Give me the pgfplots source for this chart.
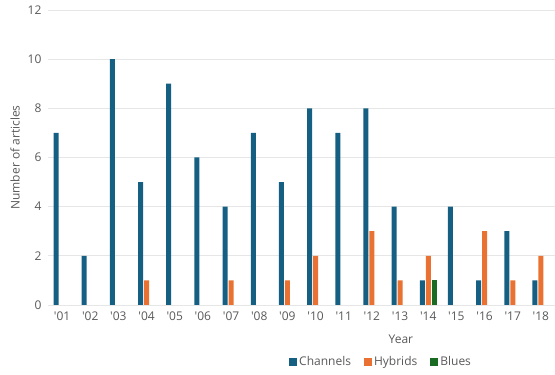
\documentclass[border=0pt]{standalone}
\usepackage{pgfplots}
\pgfplotsset{compat=1.18}
\usepackage{fontspec}
\setmainfont{Open Sans}
\definecolor{chan}{HTML}{156082}
\definecolor{hyb}{HTML}{E97132}
\definecolor{blu}{HTML}{196B24}
\definecolor{txt}{HTML}{595959}
\definecolor{grd}{HTML}{E6E6E6}
\begin{document}
\begin{tikzpicture}
\useasboundingbox (-48pt,-70pt) rectangle (507pt,305pt);
\begin{axis}[
  at={(0pt,0pt)}, anchor=south west,
  scale only axis, width=507pt, height=295pt,
  xmin=-0.5, xmax=17.5, ymin=0, ymax=12,
  ytick={0,2,...,12},
  xtick={0,...,17},
  xticklabels={\textquotesingle 01,\textquotesingle 02,\textquotesingle 03,\textquotesingle 04,\textquotesingle 05,\textquotesingle 06,\textquotesingle 07,\textquotesingle 08,\textquotesingle 09,\textquotesingle 10,\textquotesingle 11,\textquotesingle 12,\textquotesingle 13,\textquotesingle 14,\textquotesingle 15,\textquotesingle 16,\textquotesingle 17,\textquotesingle 18},
  axis line style={draw=none},
  axis x line*=bottom,
  axis y line*=left,
  major tick length=0pt,
  ymajorgrids, grid style={grd, line width=0.8pt},
  tick label style={font=\fontsize{12}{14}\selectfont, text=txt},
  /pgf/number format/assume math mode=true,
  ylabel={Number of articles},
  xlabel={Year},
  label style={font=\fontsize{12}{14}\selectfont, text=txt},
  ylabel style={at={(axis description cs:-0.065,0.5)}, anchor=center},
  xlabel style={at={(axis description cs:0.696,-0.115)}, anchor=center},
  yticklabel style={xshift=-3pt},
  xticklabel style={yshift=-3pt},
  ybar, bar width=5pt,
  legend columns=3,
  legend style={draw=none, fill=none, at={(axis description cs:0.657,-0.193)}, anchor=center,
    font=\fontsize{12}{14}\selectfont, text=txt, inner sep=0pt,
    /tikz/every odd column/.append style={column sep=0pt},
    /tikz/every even column/.append style={column sep=11pt}},
  legend image code/.code={\fill[#1] (0pt,-4pt) rectangle (8pt,4pt);},
]
\addplot[fill=chan, draw=none, bar shift=-6pt] coordinates {
(0,7) (1,2) (2,10) (3,5) (4,9) (5,6) (6,4) (7,7) (8,5) (9,8) (10,7) (11,8) (12,4) (13,1) (14,4) (15,1) (16,3) (17,1)};
\addlegendentry{Channels}
\addplot[fill=hyb, draw=none, bar shift=0pt] coordinates {
(3,1) (6,1) (8,1) (9,2) (11,3) (12,1) (13,2) (15,3) (16,1) (17,2)};
\addlegendentry{Hybrids}
\addplot[fill=blu, draw=none, bar shift=6pt] coordinates {(13,1)};
\addlegendentry{Blues}
\draw[grd, line width=0.8pt] (rel axis cs:0,0) -- (rel axis cs:1,0);
\end{axis}
\end{tikzpicture}
\end{document}
